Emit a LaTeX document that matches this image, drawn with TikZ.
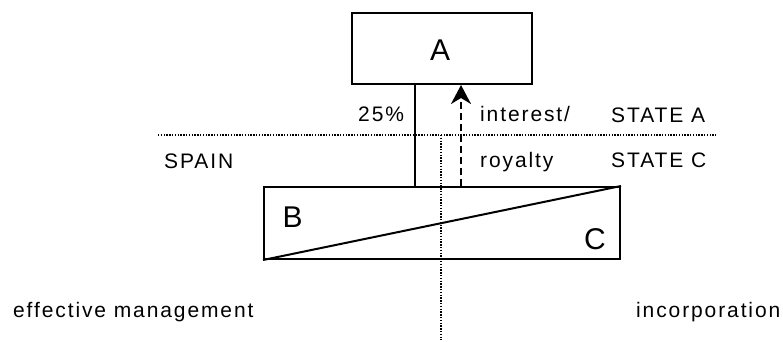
\documentclass[tikz,border=0pt]{standalone}
\usepackage{fontspec}
\setmainfont{Liberation Sans}
\newfontfamily\lblfont{Liberation Sans}[LetterSpace=9]
\usetikzlibrary{arrows.meta}
\tikzset{
  box/.style={draw, line width=2pt, rectangle, inner sep=0pt},
  lbl/.style={inner sep=0pt, anchor=base west, font=\lblfont\fontsize{21}{25}\selectfont},
  big/.style={inner sep=0pt, font=\fontsize{30}{34}\selectfont},
  solidline/.style={line width=2pt},
  dotline/.style={line width=1.4pt, dash pattern=on 1.4pt off 1.4pt},
  flow/.style={line width=2pt, dash pattern=on 7pt off 4pt, -{Stealth[length=19pt, width=20pt, inset=6pt]}}
}
\begin{document}
\begin{tikzpicture}[x=1pt, y=-1pt]
\useasboundingbox (0,0) rectangle (783,341);
% boxes
\node[box, minimum width=180pt, minimum height=71pt] (A) at (442,48.5) {};
\node[big] (Alabel) at (440,50) {A};
\node[box, minimum width=356pt, minimum height=72pt] (BC) at (442,223) {};
\node[big] (Blabel) at (292.5,217) {B};
\node[big] (Clabel) at (595,239) {C};
\draw[solidline] (BC.south west) -- (BC.north east);
% connectors
\coordinate (own) at (415,0);
\coordinate (pay) at (461,0);
\draw[solidline] (A.south -| own) -- (BC.north -| own);
\draw[flow] (BC.north -| pay) -- (A.south -| pay);
% dotted borders
\coordinate (hl) at (158,135);
\coordinate (hr) at (716,135);
\coordinate (vt) at (441,135);
\coordinate (vb) at (441,340);
\draw[dotline] (hl) -- (hr);
\draw[dotline] (vt) -- (vb);
% labels
\node[lbl] (pct) at (358,121) {25\%};
\node[lbl] (int) at (480,121) {interest/};
\node[lbl] (roy) at (480,167) {royalty};
\node[lbl] (sa) at (611,122) {STATE A};
\node[lbl] (sc) at (611,167) {STATE C};
\node[lbl] (sp) at (164,168) {SPAIN};
\node[lbl] (em) at (13,317) {effective management};
\node[lbl] (inc) at (636,317) {incorporation};
\end{tikzpicture}
\end{document}
